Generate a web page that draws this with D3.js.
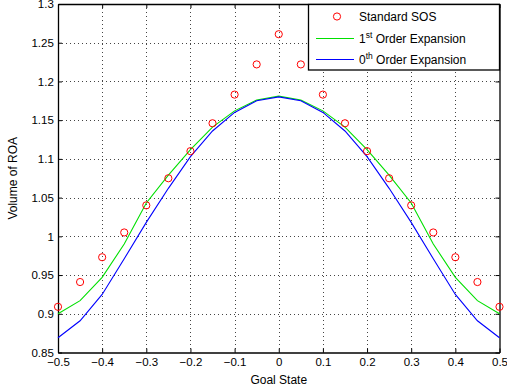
<!DOCTYPE html>
<html><head><meta charset="utf-8">
<script src="https://cdn.jsdelivr.net/npm/d3@7"></script>
<style>
body{margin:0;background:#fff;}
text{font-family:"Liberation Sans",Arial,Helvetica,sans-serif;}
</style></head>
<body><svg id="c" width="507" height="389"></svg>
<script>
const goalStates = [-0.5,-0.45,-0.4,-0.35,-0.3,-0.25,-0.2,-0.15,-0.1,-0.05,0,0.05,0.1,0.15,0.2,0.25,0.3,0.35,0.4,0.45,0.5];
const standardSOS = [0.909,0.941,0.973,1.005,1.040,1.075,1.110,1.146,1.183,1.222,1.261,1.222,1.183,1.146,1.110,1.075,1.040,1.005,0.973,0.941,0.909];
const firstOrder = [0.900,0.917,0.947,0.990,1.043,1.079,1.112,1.141,1.162,1.176,1.181,1.176,1.162,1.141,1.112,1.079,1.043,0.990,0.947,0.917,0.900];
const zeroOrder = [0.869,0.891,0.925,0.971,1.018,1.062,1.103,1.136,1.160,1.175,1.180,1.175,1.160,1.136,1.103,1.062,1.018,0.971,0.925,0.891,0.869];
const xTicks = [-0.5,-0.4,-0.3,-0.2,-0.1,0,0.1,0.2,0.3,0.4,0.5];
const yTicks = [0.85,0.9,0.95,1,1.05,1.1,1.15,1.2,1.25,1.3];
const legendLabels = [["Standard SOS",""],["1","st"," Order Expansion"],["0","th"," Order Expansion"]];

const L=58,R=499.5,T=4,B=352.5;
const svg=d3.select("#c");
const x=d3.scaleLinear().domain([-0.5,0.5]).range([L,R]);
const y=d3.scaleLinear().domain([0.85,1.3]).range([B,T]);
const fmt=v=>(v<0?"\u2212":"")+String(Math.abs(v));

// grid
const g=svg.append("g");
g.selectAll(".gx").data(xTicks.slice(1,-1)).join("line")
 .attr("x1",d=>Math.round(x(d))+0.5).attr("x2",d=>Math.round(x(d))+0.5).attr("y1",T).attr("y2",B)
 .attr("stroke","#444").attr("stroke-width",1).attr("stroke-dasharray","1,3");
g.selectAll(".gy").data(yTicks.slice(1,-1)).join("line")
 .attr("y1",d=>Math.round(y(d))+0.5).attr("y2",d=>Math.round(y(d))+0.5).attr("x1",L).attr("x2",R)
 .attr("stroke","#444").attr("stroke-width",1).attr("stroke-dasharray","1,3");

// axes
const xa=svg.append("g").attr("transform",`translate(0,${B})`)
 .call(d3.axisBottom(x).tickValues(xTicks).tickFormat(fmt).tickSizeInner(-4).tickSizeOuter(0));
const xt=svg.append("g").attr("transform",`translate(0,${T})`)
 .call(d3.axisTop(x).tickValues(xTicks).tickFormat("").tickSizeInner(-4).tickSizeOuter(0));
const ya=svg.append("g").attr("transform",`translate(${L},0)`)
 .call(d3.axisLeft(y).tickValues(yTicks).tickFormat(d=>String(d)).tickSizeInner(-4).tickSizeOuter(0));
const yr=svg.append("g").attr("transform",`translate(${R},0)`)
 .call(d3.axisRight(y).tickValues(yTicks).tickFormat("").tickSizeInner(-4).tickSizeOuter(0));
[xa,xt,ya,yr].forEach(a=>{a.select(".domain").attr("stroke","#000").attr("stroke-width",1.3);
 a.selectAll(".tick line").attr("stroke","#000");
 a.selectAll("text").attr("font-size",11.5).attr("fill","#000").attr("font-family","Liberation Sans,Arial,sans-serif");});
xa.selectAll("text").attr("dy","0.95em");
ya.selectAll("text").attr("dx","-0.1em");

// lines
const line=d3.line().x((d,i)=>x(goalStates[i])).y(d=>y(d));
svg.append("path").datum(firstOrder).attr("d",line).attr("fill","none").attr("stroke","#00e000").attr("stroke-width",1.1);
svg.append("path").datum(zeroOrder).attr("d",line).attr("fill","none").attr("stroke","#0000ff").attr("stroke-width",1.1);
svg.append("g").selectAll("circle").data(standardSOS).join("circle")
 .attr("cx",(d,i)=>x(goalStates[i])).attr("cy",d=>y(d)).attr("r",3.6)
 .attr("fill","none").attr("stroke","#ff0000").attr("stroke-width",1);

// labels
svg.append("text").attr("x",(L+R)/2).attr("y",384).attr("text-anchor","middle").attr("font-size",12).text("Goal State");
svg.append("text").attr("transform",`translate(17,${(T+B)/2}) rotate(-90)`).attr("text-anchor","middle").attr("font-size",12).text("Volume of ROA");

// legend
const lg=svg.append("g");
lg.append("rect").attr("x",308.5).attr("y",4.5).attr("width",191).attr("height",65.5).attr("fill","#fff").attr("stroke","#000").attr("stroke-width",1.3);
const rows=[16.5,38.5,59.5];
lg.append("circle").attr("cx",337).attr("cy",rows[0]).attr("r",3.6).attr("fill","none").attr("stroke","#ff0000");
lg.append("line").attr("x1",316).attr("x2",354).attr("y1",rows[1]).attr("y2",rows[1]).attr("stroke","#00e000").attr("stroke-width",1);
lg.append("line").attr("x1",316).attr("x2",354).attr("y1",rows[2]).attr("y2",rows[2]).attr("stroke","#0000ff").attr("stroke-width",1);
legendLabels.forEach((lab,i)=>{
 const t=lg.append("text").attr("x",359).attr("y",rows[i]+4.5).attr("font-size",12);
 if(lab.length===2){t.text(lab[0]);}
 else{t.append("tspan").text(lab[0]);
  t.append("tspan").attr("dy",-5).attr("font-size",8.5).text(lab[1]);
  t.append("tspan").attr("dy",5).text(lab[2]);}
});
</script></body></html>
